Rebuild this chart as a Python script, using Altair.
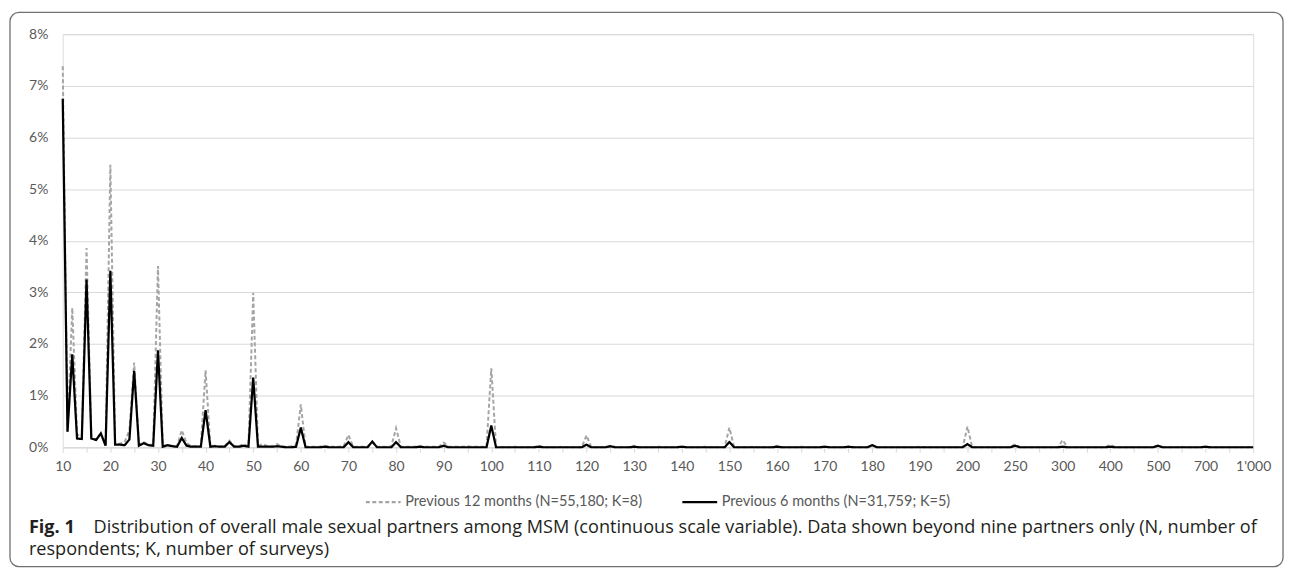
import json
import altair as alt
import pandas as pd

# ---------------- data ----------------
partners = (list(range(10, 201)) + list(range(205, 301, 5)) + list(range(310, 501, 10))
            + list(range(520, 701, 20)) + list(range(730, 1001, 30)))

tick_labels = ["10", "20", "30", "40", "50", "60", "70", "80", "90", "100",
               "110", "120", "130", "140", "150", "160", "170", "180", "190", "200",
               "250", "300", "400", "500", "700", "1'000"]

S12 = "Previous 12 months (N=55,180; K=8)"
S6 = "Previous 6 months (N=31,759; K=5)"

# percent of respondents, partners 10..100
prev12_a = [7.38, 0.30, 2.70, 0.25, 0.20, 3.86, 0.20, 0.15, 0.25, 0.05,
            5.47, 0.08, 0.07, 0.10, 0.33, 1.64, 0.05, 0.10, 0.05, 0.05,
            3.51, 0.03, 0.04, 0.03, 0.02, 0.33, 0.08, 0.02, 0.02, 0.02,
            1.49, 0.02, 0.03, 0.01, 0.02, 0.13, 0.02, 0.02, 0.06, 0.02,
            2.99, 0.03, 0.06, 0.02, 0.01, 0.06, 0.01, 0.01, 0.02, 0.05,
            0.83, 0.01, 0.01, 0.01, 0.01, 0.03, 0.01, 0.01, 0.01, 0.02,
            0.24, 0.01, 0.01, 0.01, 0.01, 0.10, 0.01, 0.01, 0.01, 0.02,
            0.37, 0.01, 0.01, 0.01, 0.01, 0.02, 0.01, 0.01, 0.01, 0.01,
            0.09, 0.01, 0.01, 0.01, 0.01, 0.02, 0.01, 0.01, 0.01, 0.01,
            1.53]
# partners 101..200
prev12_b = [0, 0, 0, 0, 0.01, 0, 0, 0, 0, 0.03,
            0, 0, 0, 0, 0.01, 0, 0, 0, 0, 0.23,
            0, 0, 0, 0, 0.03, 0, 0, 0, 0, 0.03,
            0, 0, 0, 0, 0.01, 0, 0, 0, 0, 0.02,
            0, 0, 0, 0, 0.01, 0, 0, 0, 0, 0.38,
            0, 0, 0, 0, 0.01, 0, 0, 0, 0, 0.03,
            0, 0, 0, 0, 0.01, 0, 0, 0, 0, 0.02,
            0, 0, 0, 0, 0.01, 0, 0, 0, 0, 0.04,
            0, 0, 0, 0, 0, 0, 0, 0, 0, 0.01,
            0, 0, 0, 0, 0, 0, 0, 0, 0, 0.40]
# partners 205..1000
prev12_c = [0, 0, 0, 0, 0, 0, 0, 0, 0, 0.06,
            0, 0, 0, 0, 0, 0, 0, 0, 0, 0.14,
            0, 0, 0, 0, 0, 0, 0, 0, 0, 0.05,
            0, 0, 0, 0, 0, 0, 0, 0, 0, 0.03,
            0, 0, 0, 0, 0.01, 0, 0, 0, 0, 0.01,
            0, 0, 0, 0, 0, 0, 0, 0, 0, 0.01]

prev6_a = [6.75, 0.30, 1.80, 0.17, 0.16, 3.25, 0.17, 0.14, 0.27, 0.03,
           3.42, 0.05, 0.05, 0.04, 0.15, 1.48, 0.03, 0.08, 0.04, 0.03,
           1.88, 0.01, 0.04, 0.02, 0.01, 0.18, 0.03, 0.01, 0.01, 0.01,
           0.72, 0.01, 0.02, 0.01, 0.01, 0.10, 0.01, 0.01, 0.03, 0.01,
           1.35, 0.01, 0.01, 0.01, 0.01, 0.02, 0.01, 0, 0, 0.01,
           0.38, 0, 0, 0, 0, 0.01, 0, 0, 0, 0,
           0.10, 0, 0, 0, 0, 0.11, 0, 0, 0, 0,
           0.10, 0, 0, 0, 0, 0.01, 0, 0, 0, 0,
           0.03, 0, 0, 0, 0, 0, 0, 0, 0, 0,
           0.42]
prev6_b = [0, 0, 0, 0, 0, 0, 0, 0, 0, 0.01,
           0, 0, 0, 0, 0, 0, 0, 0, 0, 0.05,
           0, 0, 0, 0, 0.02, 0, 0, 0, 0, 0.01,
           0, 0, 0, 0, 0, 0, 0, 0, 0, 0.01,
           0, 0, 0, 0, 0, 0, 0, 0, 0, 0.10,
           0, 0, 0, 0, 0, 0, 0, 0, 0, 0.01,
           0, 0, 0, 0, 0, 0, 0, 0, 0, 0.01,
           0, 0, 0, 0, 0.01, 0, 0, 0, 0, 0.04,
           0, 0, 0, 0, 0, 0, 0, 0, 0, 0,
           0, 0, 0, 0, 0, 0, 0, 0, 0, 0.06]
prev6_c = [0, 0, 0, 0, 0, 0, 0, 0, 0, 0.03,
           0, 0, 0, 0, 0, 0, 0, 0, 0, 0.01,
           0, 0, 0, 0, 0, 0, 0, 0, 0, 0.01,
           0, 0, 0, 0, 0, 0, 0, 0, 0, 0.03,
           0, 0, 0, 0, 0, 0, 0, 0, 0, 0.01,
           0, 0, 0, 0, 0, 0, 0, 0, 0, 0]

prev12 = prev12_a + prev12_b + prev12_c
prev6 = prev6_a + prev6_b + prev6_c

rows = []
for i, p in enumerate(partners):
    rows.append({"idx": i, "partners": p, "series": S12, "share": prev12[i] / 100})
    rows.append({"idx": i, "partners": p, "series": S6, "share": prev6[i] / 100})
df = pd.DataFrame(rows)

# ---------------- styling ----------------
AX_FONT = "Lato"
GRAY_TXT = "#595959"
GRID = "#d9d9d9"
CAP_FONT = "Open Sans"
CAP_SIZE = 18.2

label_expr = ("datum.value % 10 === 0 ? " + json.dumps(tick_labels)
              + "[datum.value / 10] : ''")

x_enc = alt.X("idx:Q",
              scale=alt.Scale(domain=[0, len(partners) - 1], nice=False, zero=False),
              axis=alt.Axis(values=list(range(0, len(partners), 5)), labelExpr=label_expr,
                            title=None, grid=False, domainColor=GRID, domainWidth=1,
                            tickColor=GRID, tickSize=5, labelFont=AX_FONT, labelFontSize=14,
                            labelColor=GRAY_TXT, labelPadding=7, labelOverlap=False,
                            labelFlush=False))
y_enc = alt.Y("share:Q",
              scale=alt.Scale(domain=[0, 0.08], nice=False),
              axis=alt.Axis(format=".0%", values=[i / 100 for i in range(9)], title=None,
                            grid=True, gridColor=GRID, gridWidth=1, domain=False, ticks=False,
                            labelFont=AX_FONT, labelFontSize=14, labelColor=GRAY_TXT,
                            labelPadding=15))

legend = alt.Legend(orient="none", legendX=303, legendY=451, direction="horizontal",
                    title=None, symbolType="stroke", symbolSize=1225, symbolStrokeWidth=2.2,
                    labelFont=AX_FONT, labelFontSize=14.6, labelColor=GRAY_TXT, labelLimit=0,
                    labelOffset=3, columnPadding=35)
color_enc = alt.Color("series:N",
                      scale=alt.Scale(domain=[S12, S6], range=["#a5a5a5", "#000000"]),
                      legend=legend)
dash_enc = alt.StrokeDash("series:N",
                          scale=alt.Scale(domain=[S12, S6], range=[[4, 2.5], [1, 0]]),
                          legend=legend)

base = alt.Chart(df)
line12 = base.transform_filter(alt.datum.series == S12).mark_line(
    strokeWidth=2, strokeJoin="miter").encode(x=x_enc, y=y_enc, color=color_enc,
                                              strokeDash=dash_enc)
line6 = base.transform_filter(alt.datum.series == S6).mark_line(
    strokeWidth=2.25, strokeJoin="miter").encode(x=x_enc, y=y_enc, color=color_enc,
                                                 strokeDash=dash_enc)

one = pd.DataFrame({"k": [0]})
frame = alt.Chart(one).mark_rect(fill="#ffffff", fillOpacity=0, stroke="#707070",
                                 strokeWidth=1.3, cornerRadius=9).encode(
    x=alt.value(-53), x2=alt.value(1226), y=alt.value(-22), y2=alt.value(535))

cap_bold = alt.Chart(one).mark_text(text="Fig. 1", font=CAP_FONT, fontSize=CAP_SIZE,
                                    fontWeight="bold", color="#231f20", align="left",
                                    baseline="alphabetic").encode(
    x=alt.value(-34), y=alt.value(501))
cap_1 = alt.Chart(one).mark_text(
    text="Distribution of overall male sexual partners among MSM (continuous scale variable). "
         "Data shown beyond nine partners only (N, number of",
    font=CAP_FONT, fontSize=CAP_SIZE, color="#231f20", align="left",
    baseline="alphabetic").encode(x=alt.value(31), y=alt.value(501))
cap_2 = alt.Chart(one).mark_text(
    text="respondents; K, number of surveys)",
    font=CAP_FONT, fontSize=CAP_SIZE, color="#231f20", align="left",
    baseline="alphabetic").encode(x=alt.value(-34), y=alt.value(523))

chart = alt.layer(frame, line12, line6, cap_bold, cap_1, cap_2).properties(
    width=1196, height=415,
    padding={"left": 55, "top": 25, "right": 32, "bottom": 121},
    autosize=alt.AutoSizeParams(type="none"),
).configure_view(stroke=None).configure(background="#ffffff")

chart.save("out.html", embed_options={"renderer": "svg", "actions": False})
